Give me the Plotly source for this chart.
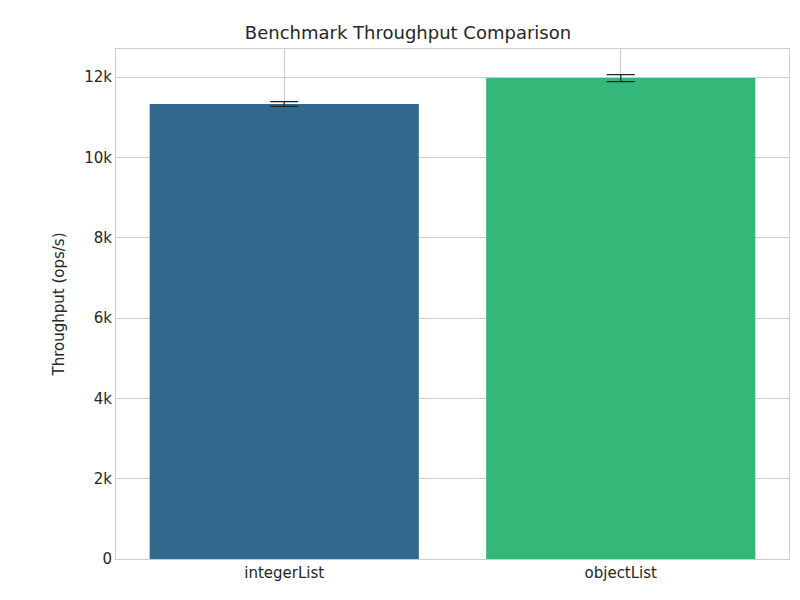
import plotly.graph_objects as go

benchmarks = ["integerList", "objectList"]
throughput = [11330, 11975]
errors = [60, 85]
colors = ["#31688e", "#35b779"]

fig = go.Figure(
    go.Bar(
        x=benchmarks,
        y=throughput,
        marker_color=colors,
        marker_line_width=0,
        width=0.8,
        error_y=dict(type="data", array=errors, color="#222", thickness=1.2, width=14),
    )
)

fig.update_layout(
    width=800,
    height=600,
    template="simple_white",
    font=dict(family="DejaVu Sans", size=15, color="#262626"),
    title=dict(text="Benchmark Throughput Comparison", x=0.5, y=0.97, font_size=18),
    margin=dict(l=108, r=19, t=41, b=49),
    plot_bgcolor="white",
    showlegend=False,
)
fig.update_xaxes(
    showgrid=True, gridcolor="#cccccc", showline=True, linecolor="#cccccc",
    mirror=True, ticks="", range=[-0.5, 1.5],
)
fig.update_yaxes(
    title_text="Throughput (ops/s)", title_font_size=15,
    range=[0, 12700], dtick=2000, showgrid=True, gridcolor="#cccccc",
    showline=True, linecolor="#cccccc", mirror=True, ticks="", zeroline=False,
)

fig.write_html("out.html")
